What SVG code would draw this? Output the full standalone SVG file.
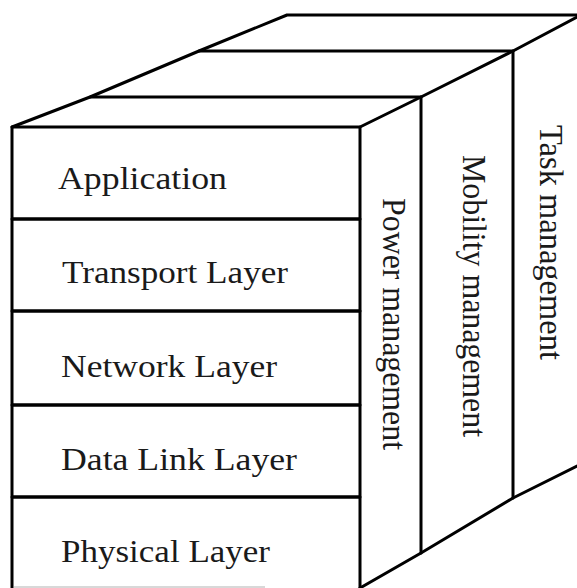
<svg xmlns="http://www.w3.org/2000/svg" width="577" height="588" viewBox="0 0 577 588">
<style>
.ln{fill:none;stroke:#000;stroke-width:3;stroke-linejoin:round;stroke-linecap:round}
.t{font-family:"Liberation Serif","Times New Roman",serif;font-size:32px;fill:#1a1a1a}
.v{font-family:"Liberation Serif","Times New Roman",serif;font-size:34px;fill:#1a1a1a}
</style>
<rect width="577" height="588" fill="#fff"/>
<g id="connectors">
<path class="ln" d="M12,127 L90,97 L199,51 L287,15 L577,15"/>
<path class="ln" d="M90,97 L421,97"/>
<path class="ln" d="M199,51 L513,51"/>
<path class="ln" d="M360,127 L421,97 L513,51 L577,17"/>
<path class="ln" d="M360,588 L421,553 L513,498 L577,466"/>
<line x1="14" y1="587" x2="265" y2="587" stroke="#d8d8d8" stroke-width="2"/>
</g>
<g id="application">
<rect class="ln" x="12" y="127" width="348" height="92"/>
<text class="t" x="58" y="189" textLength="169" lengthAdjust="spacingAndGlyphs">Application</text>
</g>
<g id="transport">
<rect class="ln" x="12" y="219" width="348" height="92"/>
<text class="t" x="62" y="283" textLength="226" lengthAdjust="spacingAndGlyphs">Transport Layer</text>
</g>
<g id="network">
<rect class="ln" x="12" y="311" width="348" height="94"/>
<text class="t" x="61" y="377" textLength="216" lengthAdjust="spacingAndGlyphs">Network Layer</text>
</g>
<g id="datalink">
<rect class="ln" x="12" y="405" width="348" height="92"/>
<text class="t" x="61" y="470" textLength="236" lengthAdjust="spacingAndGlyphs">Data Link Layer</text>
</g>
<g id="physical">
<path class="ln" d="M12,600 L12,497 L360,497 L360,600"/>
<text class="t" x="61" y="562" textLength="209" lengthAdjust="spacingAndGlyphs">Physical Layer</text>
</g>
<g id="power">
<path class="ln" d="M421,97 L421,553"/>
<text class="v" transform="translate(383,198) rotate(90)" textLength="252" lengthAdjust="spacingAndGlyphs">Power management</text>
</g>
<g id="mobility">
<path class="ln" d="M513,51 L513,498"/>
<text class="v" transform="translate(463,155) rotate(90)" textLength="282" lengthAdjust="spacingAndGlyphs">Mobility management</text>
</g>
<g id="task">
<text class="v" transform="translate(540,125) rotate(90)" textLength="235" lengthAdjust="spacingAndGlyphs">Task management</text>
</g>
</svg>
